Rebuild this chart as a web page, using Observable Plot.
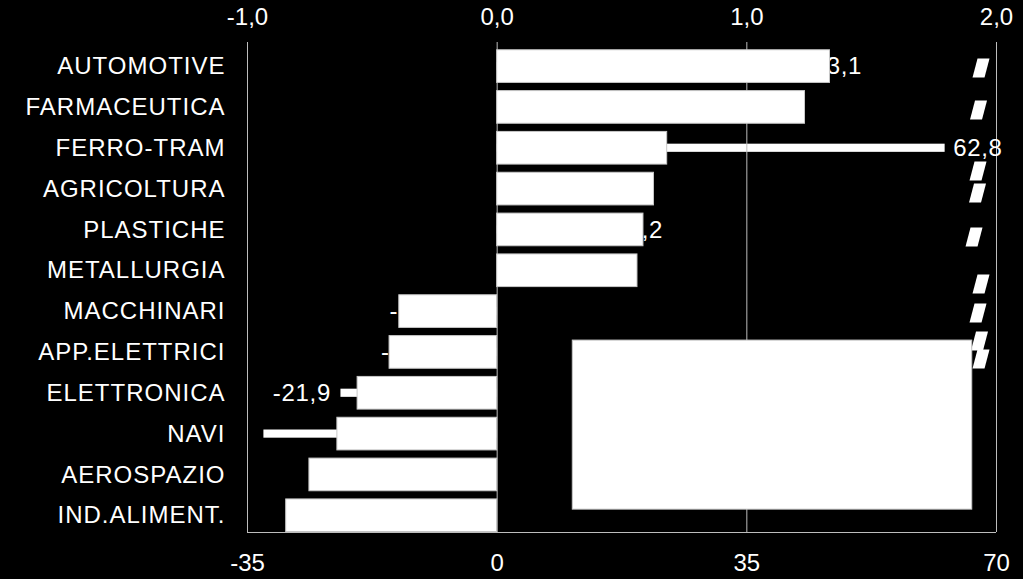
<!DOCTYPE html>
<html>
<head>
<meta charset="utf-8">
<script src="https://cdn.jsdelivr.net/npm/d3@7"></script>
<script src="https://cdn.jsdelivr.net/npm/@observablehq/plot@0.6"></script>
<style>
  html, body { margin: 0; padding: 0; background: #000; }
  #chart svg { display: block; background: #000; }
  #chart text { font-family: "Liberation Sans", Arial, sans-serif; }
  #chart .cat text { letter-spacing: 1px; }
  #chart .lbl text { letter-spacing: 0.7px; }
</style>
</head>
<body>
<div id="chart"></div>
<script>
// Categories (top to bottom)
const categories = ["AUTOMOTIVE", "FARMACEUTICA", "FERRO-TRAM", "AGRICOLTURA", "PLASTICHE", "METALLURGIA",
  "MACCHINARI", "APP.ELETTRICI", "ELETTRONICA", "NAVI", "AEROSPAZIO", "IND.ALIMENT."];
// Thick bars, read on the top axis (-1,0 … 2,0)
const barValues = [1.333, 1.233, 0.681, 0.628, 0.586, 0.562, -0.392, -0.431, -0.559, -0.640, -0.752, -0.845];
// Thin bars, read on the bottom axis (-35 … 70); null = hidden / not readable
const lineValues = [43.1, null, 62.8, null, 15.2, null, -7.5, -8.7, -21.9, -32.7, null, null];
const lineLabelShown = [true, false, true, false, true, false, true, true, true, false, false, false];
// Marker series (top-axis value, row position)
const markerValues = [1.938, 1.928, 1.926, 1.924, 1.910, 1.938, 1.926, 1.932, 1.938];
const markerRows = [0.625, 1.653, 3.147, 3.686, 4.764, 5.915, 6.625, 7.311, 7.752];
// Blank box (bottom-axis values, row positions)
const boxX = [10.6, 66.6];
const boxRows = [7.30, 11.44];
// Axis ticks
const bottomTicks = [-35, 0, 35, 70];
const topTicks = [-1, 0, 1, 2];
const axisRatio = 35; // one unit of the top axis = 35 units of the bottom axis

const comma = (v, p) => d3.format("." + p + "f")(v).replace(".", ",").replace("−", "-");

const rows = categories.map((c, i) => ({
  cat: c, i, bar: barValues[i], line: lineValues[i], shown: lineLabelShown[i]
}));
const lines = rows.filter(d => d.line != null);
const posLabels = lines.filter(d => d.shown && d.line > 0);
const negLabels = lines.filter(d => d.shown && d.line < 0);
const markers = markerValues.map((v, k) => ({v, r: markerRows[k]}));

const parallelogram = {
  draw(ctx) {
    ctx.moveTo(-3.5, -9.5);
    ctx.lineTo(8.5, -9.5);
    ctx.lineTo(3.5, 9.5);
    ctx.lineTo(-8.5, 9.5);
    ctx.closePath();
  }
};

const grid = "#bdbdbd";

const chart = Plot.plot({
  width: 1023,
  height: 579,
  marginLeft: 247,
  marginRight: 27,
  marginTop: 42,
  marginBottom: 47,
  style: {background: "#000", color: "#fff", fontSize: "24px"},
  x: {domain: [-35, 70]},
  y: {domain: [0, 12], reverse: true, axis: null},
  marks: [
    // thin bars (bottom axis)
    Plot.rect(lines, {x1: d => 0, x2: d => d.line, y1: d => d.i + 0.49, y2: d => d.i + 0.69, fill: "#fff"}),
    // grid / frame
    Plot.ruleX(bottomTicks, {y1: d => 0, y2: d => 12, stroke: grid, strokeWidth: 1}),
    Plot.ruleY([12], {x1: d => -35, x2: d => 70, stroke: grid, strokeWidth: 1}),
    // thin-bar labels
    Plot.text(posLabels, {x: "line", y: d => d.i + 0.59, text: d => comma(d.line, 1), textAnchor: "start", dx: 8,
      fill: "#fff", fontSize: 24, className: "lbl"}),
    Plot.text(negLabels, {x: "line", y: d => d.i + 0.59, text: d => comma(d.line, 1), textAnchor: "end", dx: -10,
      fill: "#fff", fontSize: 24, className: "lbl"}),
    // thick bars (top axis)
    Plot.rect(rows, {x1: d => 0, x2: d => d.bar * axisRatio, y1: d => d.i + 0.19, y2: d => d.i + 0.99,
      fill: "#fff", stroke: "#c8c8c8", strokeWidth: 1}),
    // marker series
    Plot.dot(markers, {x: d => d.v * axisRatio, y: "r", symbol: parallelogram, fill: "#fff", stroke: "none"}),
    // blank box
    Plot.rect([{x1: boxX[0], x2: boxX[1], y1: boxRows[0], y2: boxRows[1]}],
      {x1: "x1", x2: "x2", y1: "y1", y2: "y2", fill: "#fff", stroke: "#c8c8c8", strokeWidth: 1}),
    // category labels
    Plot.text(categories, {y: (d, i) => i + 0.59, text: d => d, frameAnchor: "left", textAnchor: "end", dx: -22,
      fill: "#fff", fontSize: 24, className: "cat"}),
    // axes
    Plot.axisX({anchor: "top", ticks: topTicks.map(t => t * axisRatio), tickSize: 0, tickPadding: 18,
      tickFormat: d => comma(d / axisRatio, 1), fontSize: 24, fill: "#fff"}),
    Plot.axisX({anchor: "bottom", ticks: bottomTicks, tickSize: 0, tickPadding: 21,
      tickFormat: d => String(d), fontSize: 24, fill: "#fff"})
  ]
});
document.getElementById("chart").appendChild(chart);
</script>
</body>
</html>
